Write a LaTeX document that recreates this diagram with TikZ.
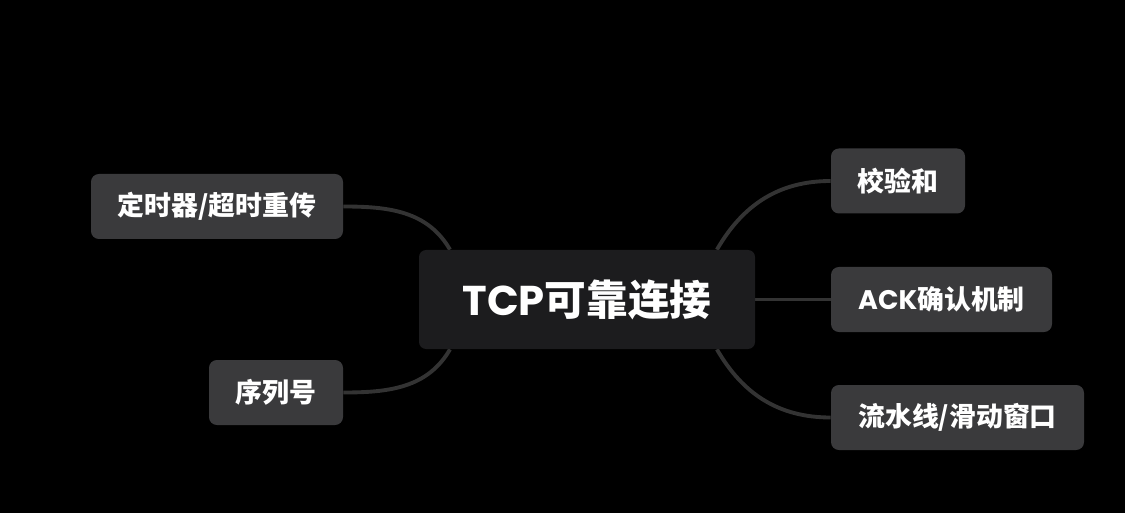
\documentclass[tikz,border=0pt]{standalone}
\usepackage{fontspec}
\newfontfamily\cjk{Noto Sans CJK SC}
\newfontfamily\latfont{Poppins}
\usetikzlibrary{backgrounds}
\definecolor{rootgray}{HTML}{1C1C1E}
\definecolor{leafgray}{HTML}{3A3A3C}
\definecolor{linkgray}{HTML}{333333}
\newcommand{\lt}[1]{{\latfont\bfseries #1}}
\tikzset{root/.style={fill=rootgray,rounded corners=4pt,inner sep=0pt,minimum width=6.72cm,minimum height=1.98cm,
    text=white,font=\cjk\bfseries\fontsize{23.7}{26}\selectfont},
  leaf/.style={fill=leafgray,rounded corners=4.5pt,inner sep=0pt,minimum height=1.3cm,
    text=white,font=\cjk\bfseries\fontsize{15.3}{18}\selectfont},
  link/.style={linkgray,line width=2.2pt}}

\begin{document}
\begin{tikzpicture}
\useasboundingbox (0,0) rectangle (22.5,-10.26);
\node[root] (tcp) at (11.74,-5.99) {\lt{TCP}可靠连接};
\node[leaf,minimum width=5.04cm] (timer) at (4.34,-4.13) {定时器/超时重传};
\node[leaf,minimum width=2.68cm] (seq) at (5.52,-7.85) {序列号};
\node[leaf,minimum width=2.68cm] (check) at (17.96,-3.62) {校验和};
\node[leaf,minimum width=4.42cm] (ack) at (18.83,-5.99) {\lt{ACK}确认机制};
\node[leaf,minimum width=5.06cm] (window) at (19.15,-8.35) {流水线/滑动窗口};
\begin{scope}[on background layer]
\fill[black] (0,0) rectangle (22.5,-10.26);
\draw[link] (timer.east) to[out=0,in=120] (tcp.160);
\draw[link] (seq.east) to[out=0,in=-120] (tcp.200);
\draw[link] (check.west) to[out=180,in=60] (tcp.21);
\draw[link] (ack.west) -- (tcp.east);
\draw[link] (window.west) to[out=180,in=-60] (tcp.339);
\end{scope}
\end{tikzpicture}
\end{document}
